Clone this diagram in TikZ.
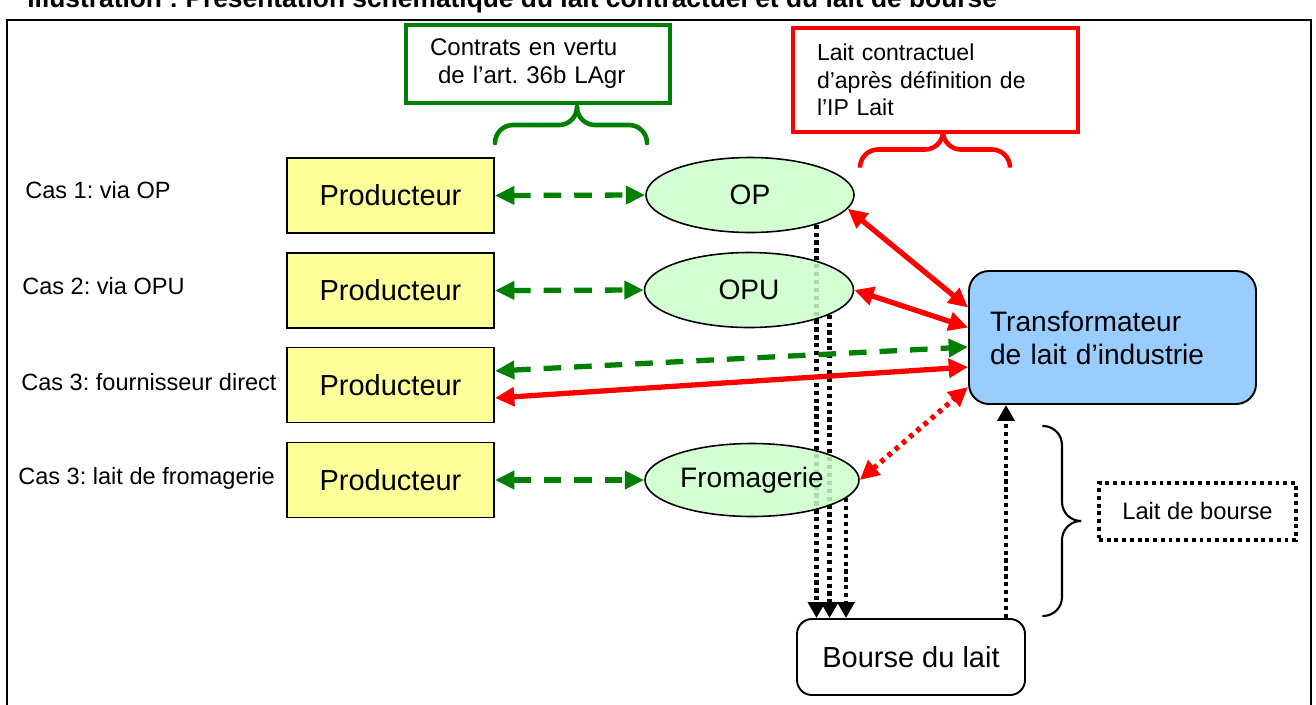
\documentclass[tikz,border=0pt]{standalone}
\usepackage{fontspec}
\setmainfont{Liberation Sans}
\usetikzlibrary{positioning,arrows.meta,shapes.geometric}
\definecolor{prodyellow}{HTML}{FFFF99}
\definecolor{orggreen}{HTML}{CCFFCC}
\definecolor{transblue}{HTML}{99CCFF}
\definecolor{darkgreen}{HTML}{008000}
\definecolor{brightred}{HTML}{FF0000}
\pgfdeclarelayer{background}
\pgfsetlayers{background,main}
\frenchspacing
\tikzset{
  prod/.style={shape=rectangle, draw, line width=1.1pt, fill=prodyellow, minimum width=4.14cm, minimum height=1.5cm, font=\fontsize{16.5}{19}\selectfont},
  org/.style={shape=ellipse, draw, line width=0.9pt, fill=orggreen, fill opacity=0.85, text opacity=1, minimum width=4.18cm, minimum height=1.5cm, inner sep=0pt, font=\fontsize{16}{19}\selectfont},
  caslabel/.style={anchor=base west, inner sep=0pt, font=\fontsize{13.4}{16}\selectfont},
  gdash/.style={{Triangle[length=11pt,width=10pt]}-{Triangle[length=11pt,width=10pt]}, darkgreen, line width=3pt, dash pattern=on 10pt off 7.4pt},
  rline/.style={{Triangle[length=11pt,width=10.5pt]}-{Triangle[length=11pt,width=10.5pt]}, brightred, line width=3pt},
  rdot/.style={{Triangle[length=11pt,width=10.5pt]}-{Triangle[length=11pt,width=10.5pt]}, brightred, line width=3pt, dash pattern=on 2.6pt off 2.8pt},
  kdot/.style={-{Triangle[length=9pt,width=9.5pt]}, black, line width=2.6pt, dash pattern=on 2.4pt off 2.1pt},
  bracepath/.style={line width=2.6pt, rounded corners=0.36cm, line cap=round}
}
\begin{document}
\begin{tikzpicture}
\useasboundingbox (0,0) rectangle (26.32,-14.08);
\begin{pgfonlayer}{background}
\fill[white] (0,0) rectangle (26.32,-14.08);
\end{pgfonlayer}
% title, cut off by the page edge
\node[anchor=base west, inner sep=0pt, font=\bfseries\fontsize{15}{18}\selectfont] (TI) at (0.54,-0.14) {Illustration : Présentation schématique du lait contractuel et du lait de bourse};
\draw[line width=1.2pt] (0.14,-14.6) -- (0.14,-0.4) -- (26.22,-0.4) -- (26.22,-14.6);

% annotation boxes
\node[draw=darkgreen, line width=2.2pt, minimum width=5.28cm, minimum height=1.56cm, text width=4.32cm, inner xsep=0.48cm, align=left, font=\fontsize{13.7}{15.9}\selectfont] (CT) at (10.76,-1.28) {Contrats en vertu\\~de l’art. 36b LAgr};
\node[draw=brightred, line width=2.4pt, minimum width=5.7cm, minimum height=2.08cm, text width=4.74cm, inner xsep=0.48cm, align=left, font=\fontsize{13.1}{15.6}\selectfont] (LC) at (18.71,-1.6) {Lait contractuel\\d’après définition de\\l’IP Lait};
\draw[bracepath, darkgreen] (9.9,-2.86) -- (9.9,-2.5) -- (11.54,-2.5) -- (11.54,-2.14);
\draw[bracepath, darkgreen] (12.94,-2.86) -- (12.94,-2.5) -- (11.54,-2.5) -- (11.54,-2.14);
\draw[bracepath, brightred] (17.2,-3.34) -- (17.2,-2.99) -- (18.86,-2.99) -- (18.86,-2.64);
\draw[bracepath, brightred] (20.2,-3.34) -- (20.2,-2.99) -- (18.86,-2.99) -- (18.86,-2.64);

% cases
\node[caslabel] (C1) at (0.5,-3.96) {Cas 1: via OP};
\node[caslabel] (C2) at (0.44,-5.88) {Cas 2: via OPU};
\node[caslabel] (C3) at (0.42,-7.8) {Cas 3: fournisseur direct};
\node[caslabel] (C4) at (0.36,-9.68) {Cas 3: lait de fromagerie};

\node[prod] (P1) at (7.81,-3.91) {Producteur};
\node[prod] (P2) at (7.81,-5.81) {Producteur};
\node[prod] (P3) at (7.81,-7.70) {Producteur};
\node[prod] (P4) at (7.81,-9.60) {Producteur};

\node[org, minimum width=4.16cm] (OP) at (15.0,-3.9) {OP};
\node[org] (OPU) at (14.98,-5.8) {OPU};
\node[org, minimum width=4.28cm, minimum height=1.46cm] (FRO) at (15.04,-9.6) {Fromagerie};

\node[draw, line width=1.1pt, fill=transblue, rounded corners=0.4cm, minimum height=2.66cm, text width=4.9cm, inner xsep=0.42cm, align=left, font=\fontsize{16}{18.8}\selectfont] (TR) at (22.25,-6.75) {Transformateur\\de lait d’industrie};
\node[draw, line width=1.1pt, fill=white, rounded corners=0.3cm, minimum width=4.56cm, minimum height=1.52cm, font=\fontsize{16.5}{19}\selectfont] (BO) at (18.22,-13.14) {Bourse du lait};
\node[draw, line width=2.4pt, dash pattern=on 2.2pt off 2.2pt, minimum width=3.94cm, minimum height=1.14cm, font=\fontsize{13.5}{16}\selectfont] (LB) at (23.95,-10.23) {Lait de bourse};
\draw[bracepath, line width=1.2pt, rounded corners=0.38cm] (20.86,-8.52) -- (21.24,-8.52) -- (21.24,-10.42) -- (21.62,-10.42);
\draw[bracepath, line width=1.2pt, rounded corners=0.38cm] (20.86,-12.32) -- (21.24,-12.32) -- (21.24,-10.42) -- (21.62,-10.42);

% contracts
\draw[gdash] (P1.east) -- (OP.west);
\draw[gdash] (P2.east) -- (OPU.west);
\draw[gdash] (P4.east) -- (FRO.west);
\draw[gdash] ([yshift=0.28cm]P3.east) -- ([yshift=-0.19cm]TR.west);
\draw[rline] ([yshift=-0.26cm]P3.east) -- ([yshift=-0.59cm]TR.west);
\draw[rline] (OP.-8) -- ([yshift=0.6cm]TR.west);
\draw[rline] (OPU.east) -- ([yshift=0.2cm]TR.west);
\draw[rdot] (FRO.east) -- ([yshift=-0.99cm]TR.west);

% milk exchange
\begin{pgfonlayer}{background}
\draw[kdot] (OP.-24) -- (OP.-24 |- BO.north);
\draw[kdot] (OPU.-17) -- (OPU.-17 |- BO.north);
\draw[kdot] (FRO.-11) -- (FRO.-11 |- BO.north);
\end{pgfonlayer}
\draw[kdot] ([xshift=1.9cm]BO.north) -- ([xshift=1.9cm]BO.north |- TR.south);
\end{tikzpicture}
\end{document}
